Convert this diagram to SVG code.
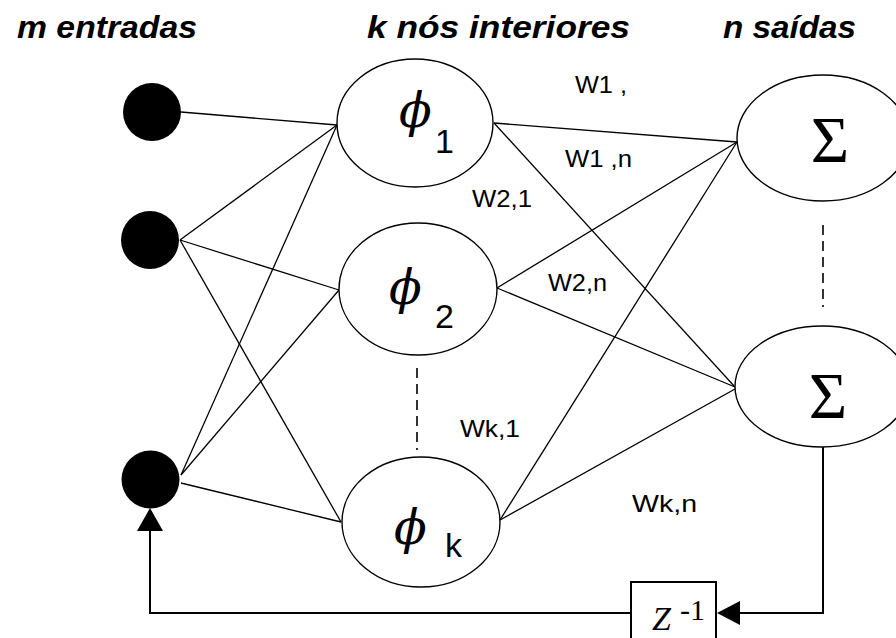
<svg xmlns="http://www.w3.org/2000/svg" width="896" height="638" viewBox="0 0 896 638">
<defs>
<style>
.hdr{font-family:"Liberation Sans Narrow","Liberation Sans",Arial,sans-serif;font-weight:bold;font-style:italic;font-size:31px;fill:#000}
.lbl{font-family:"Liberation Sans",Arial,sans-serif;font-size:24px;fill:#000}
.phi{font-family:"DejaVu Serif",serif;font-style:italic;font-size:48px;fill:#000}
.sub{font-family:"Liberation Sans",Arial,sans-serif;font-size:34px;fill:#000}
.sig{font-family:"Liberation Serif","Times New Roman",serif;font-size:66px;fill:#000}
.node{fill:#fff;stroke:#000;stroke-width:1.4}
.inp{fill:#000;stroke:none}
.edge{stroke:#000;stroke-width:1.3;fill:none}
.dash{stroke:#000;stroke-width:1.6;stroke-dasharray:10,6;fill:none}
.fb{stroke:#000;stroke-width:2;fill:none}
.z{font-family:"Liberation Serif","Times New Roman",serif;font-style:italic;font-size:34px;fill:#000}
.zs{font-family:"Liberation Serif","Times New Roman",serif;font-size:30px;fill:#000}
</style>
</defs>
<rect width="896" height="638" fill="#fff"/>
<g id="headers">
<text class="hdr" x="17" y="38" textLength="180" lengthAdjust="spacingAndGlyphs">m entradas</text>
<text class="hdr" x="367" y="38" textLength="263" lengthAdjust="spacingAndGlyphs">k nós interiores</text>
<text class="hdr" x="723" y="38" textLength="133" lengthAdjust="spacingAndGlyphs">n saídas</text>
</g>
<g id="connectors">
<line class="edge" x1="181" y1="112" x2="337" y2="125"/>
<line class="edge" x1="180" y1="240" x2="337" y2="125"/>
<line class="edge" x1="180" y1="240" x2="339" y2="290"/>
<line class="edge" x1="180" y1="240" x2="341" y2="522"/>
<line class="edge" x1="181" y1="475" x2="337" y2="125"/>
<line class="edge" x1="181" y1="475" x2="339" y2="290"/>
<line class="edge" x1="181" y1="483" x2="341" y2="522"/>
<line class="edge" x1="494" y1="123" x2="737" y2="142"/>
<line class="edge" x1="494" y1="123" x2="735" y2="387"/>
<line class="edge" x1="497" y1="288" x2="737" y2="142"/>
<line class="edge" x1="497" y1="288" x2="735" y2="387"/>
<line class="edge" x1="500" y1="520" x2="737" y2="142"/>
<line class="edge" x1="500" y1="520" x2="735" y2="389"/>
<line class="dash" x1="417" y1="368" x2="417" y2="450"/>
<line class="dash" x1="823" y1="225" x2="823" y2="307"/>
<polyline class="fb" points="823,447 823,613 740,613"/>
<polygon points="717,613 740,601 740,625" fill="#000"/>
<polyline class="fb" points="631,613 150,613 150,530"/>
<polygon points="150,508 137,531 163,531" fill="#000"/>
</g>
<g id="input1"><circle class="inp" cx="152" cy="112" r="29"/></g>
<g id="input2"><circle class="inp" cx="150" cy="240" r="29"/></g>
<g id="input3"><circle class="inp" cx="150.5" cy="479.5" r="29"/></g>
<g id="phi1">
<ellipse class="node" cx="415" cy="123" rx="78" ry="64"/>
<text class="phi" x="399" y="127">ϕ</text>
<text class="sub" x="435" y="153">1</text>
</g>
<g id="phi2">
<ellipse class="node" cx="418" cy="289" rx="79" ry="66"/>
<text class="phi" x="389" y="304">ϕ</text>
<text class="sub" x="435" y="328">2</text>
</g>
<g id="phik">
<ellipse class="node" cx="421" cy="522" rx="79" ry="65"/>
<text class="phi" x="394" y="544">ϕ</text>
<text class="sub" x="445" y="557">k</text>
</g>
<g id="sigma1">
<ellipse class="node" cx="823" cy="138" rx="86" ry="63"/>
<text class="sig" x="830" y="162" text-anchor="middle">Σ</text>
</g>
<g id="sigma2">
<ellipse class="node" cx="822" cy="386.5" rx="87" ry="60.5"/>
<text class="sig" x="828" y="418" text-anchor="middle">Σ</text>
</g>
<g id="delay">
<rect x="631" y="582" width="85" height="70" fill="#fff" stroke="#000" stroke-width="2"/>
<text class="z" x="652" y="630">Z</text>
<text class="zs" x="680" y="620">-1</text>
</g>
<g id="weights">
<text class="lbl" x="575" y="93" textLength="52" lengthAdjust="spacingAndGlyphs">W1 ,</text>
<text class="lbl" x="565" y="167" textLength="67" lengthAdjust="spacingAndGlyphs">W1 ,n</text>
<text class="lbl" x="472" y="207" textLength="60" lengthAdjust="spacingAndGlyphs">W2,1</text>
<text class="lbl" x="548" y="291" textLength="59" lengthAdjust="spacingAndGlyphs">W2,n</text>
<text class="lbl" x="460" y="437" textLength="60" lengthAdjust="spacingAndGlyphs">Wk,1</text>
<text class="lbl" x="632" y="512" textLength="65" lengthAdjust="spacingAndGlyphs">Wk,n</text>
</g>
</svg>
